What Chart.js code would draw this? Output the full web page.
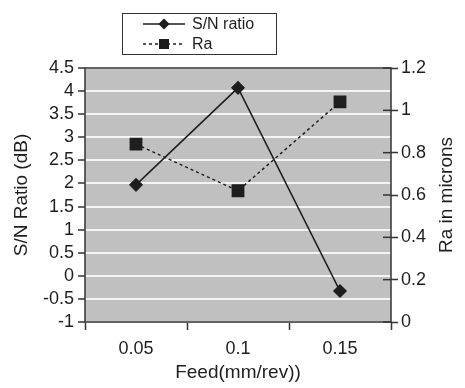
<!DOCTYPE html>
<html>
<head>
<meta charset="utf-8">
<script src="https://cdn.jsdelivr.net/npm/chart.js@4.4.1/dist/chart.umd.min.js"></script>
<style>
  html, body { margin: 0; padding: 0; background: #fff; }
  #wrap { width: 465px; height: 388px; position: relative; }
</style>
</head>
<body>
<div id="wrap"><canvas id="feedChart" width="465" height="388"></canvas></div>
<script>
const feedLabels = ['0.05', '0.1', '0.15'];
const snRatio = [1.97, 4.07, -0.33];
const raMicrons = [0.84, 0.62, 1.04];
const snTicks = [-1, -0.5, 0, 0.5, 1, 1.5, 2, 2.5, 3, 3.5, 4, 4.5];
const raTicks = [0, 0.2, 0.4, 0.6, 0.8, 1, 1.2];
const raTitle = 'Ra in microns';

const FONT = 'Liberation Sans, Arial, sans-serif';
const INK = '#1e1e1e';

// grey plot background + frame, inner half of the Ra ticks, right axis title
const plotArea = {
    id: 'plotArea',
    beforeDraw(chart) {
        const { ctx, chartArea: a } = chart;
        ctx.save();
        ctx.fillStyle = '#c0c0c0';
        ctx.fillRect(a.left, a.top, a.width, a.height);
        ctx.restore();
    },
    afterDatasetsDraw(chart) {
        const { ctx, chartArea: a } = chart;
        const ra = chart.scales.yRa;
        ctx.save();
        ctx.strokeStyle = '#333';
        ctx.lineWidth = 1.5;
        ctx.strokeRect(a.left, a.top, a.width, a.height);
        raTicks.forEach(v => {
            const py = ra.getPixelForValue(v);
            ctx.beginPath();
            ctx.moveTo(a.right - 8, py);
            ctx.lineTo(a.right, py);
            ctx.stroke();
        });
        ctx.fillStyle = INK;
        ctx.font = '19px ' + FONT;
        ctx.textAlign = 'center';
        ctx.textBaseline = 'middle';
        ctx.translate(447, (a.top + a.bottom) / 2);
        ctx.rotate(-Math.PI / 2);
        ctx.fillText(raTitle, 0, 0);
        ctx.restore();
    }
};

// boxed legend with line + marker samples
const boxLegend = {
    id: 'boxLegend',
    afterDraw(chart) {
        const ctx = chart.ctx;
        const x = 122, y = 13, w = 154, h = 41;
        ctx.save();
        ctx.fillStyle = '#fff';
        ctx.fillRect(x, y, w, h);
        ctx.strokeStyle = '#333';
        ctx.lineWidth = 1;
        ctx.strokeRect(x + 0.5, y + 0.5, w, h);
        chart.data.datasets.forEach((ds, i) => {
            const cy = y + 11 + i * 20;
            ctx.strokeStyle = ds.borderColor;
            ctx.lineWidth = ds.borderWidth;
            ctx.setLineDash(ds.borderDash || []);
            ctx.beginPath();
            ctx.moveTo(x + 21, cy);
            ctx.lineTo(x + 63, cy);
            ctx.stroke();
            ctx.setLineDash([]);
            ctx.fillStyle = INK;
            Chart.helpers.drawPoint(ctx, {
                pointStyle: ds.pointStyle, radius: ds.pointRadius * 0.75,
                borderWidth: 1
            }, x + 42, cy);
            ctx.font = '16px ' + FONT;
            ctx.textBaseline = 'middle';
            ctx.fillText(ds.label, x + 70, cy + 1);
        });
        ctx.restore();
    }
};

const ctx = document.getElementById('feedChart').getContext('2d');
new Chart(ctx, {
    type: 'line',
    data: {
        labels: feedLabels,
        datasets: [{
            label: 'S/N ratio',
            data: snRatio,
            yAxisID: 'ySN',
            borderColor: INK,
            backgroundColor: INK,
            borderWidth: 1.5,
            pointStyle: 'rectRot',
            pointRadius: 6,
            pointBorderColor: INK,
            pointBackgroundColor: INK,
            fill: false,
            tension: 0
        }, {
            label: 'Ra',
            data: raMicrons,
            yAxisID: 'yRa',
            borderColor: INK,
            backgroundColor: INK,
            borderWidth: 1.5,
            borderDash: [3, 3],
            pointStyle: 'rect',
            pointRadius: 8,
            pointBorderColor: INK,
            pointBackgroundColor: INK,
            fill: false,
            tension: 0
        }]
    },
    options: {
        responsive: false,
        animation: false,
        layout: { padding: { top: 68, left: 0, right: 0, bottom: 0 } },
        plugins: { legend: { display: false }, tooltip: { enabled: false } },
        scales: {
            x: {
                offset: true,
                grid: { offset: true, drawOnChartArea: false, tickLength: 8, tickColor: '#333', tickWidth: 1.5 },
                border: { display: false },
                ticks: { color: INK, font: { family: FONT, size: 18 }, padding: 8 },
                title: { display: true, text: 'Feed(mm/rev))', color: INK, font: { family: FONT, size: 19 }, padding: { top: 4, bottom: 4 } },
                afterFit(s) { s.height = 66; }
            },
            ySN: {
                position: 'left',
                min: -1,
                max: 4.5,
                afterBuildTicks(s) { s.ticks = snTicks.map(v => ({ value: v })); },
                grid: {
                    color: '#f4f4f4', lineWidth: 2,
                    tickColor: '#333', tickLength: 7, tickWidth: 1.5
                },
                border: { display: false },
                ticks: { color: INK, font: { family: FONT, size: 18 }, padding: 4, autoSkip: false, callback: v => String(v) },
                title: { display: true, text: 'S/N Ratio (dB)', color: INK, font: { family: FONT, size: 19 }, padding: { top: 10, bottom: 0 } },
                afterFit(s) { s.width = 85; }
            },
            yRa: {
                position: 'right',
                min: 0,
                max: 1.2,
                afterBuildTicks(s) { s.ticks = raTicks.map(v => ({ value: v })); },
                grid: { drawOnChartArea: false, tickColor: '#333', tickLength: 7, tickWidth: 1.5 },
                border: { display: false },
                ticks: { color: INK, font: { family: FONT, size: 18 }, padding: 3, autoSkip: false, callback: v => String(v) },
                afterFit(s) { s.width = 74; }
            }
        }
    },
    plugins: [plotArea, boxLegend]
});
</script>
</body>
</html>
